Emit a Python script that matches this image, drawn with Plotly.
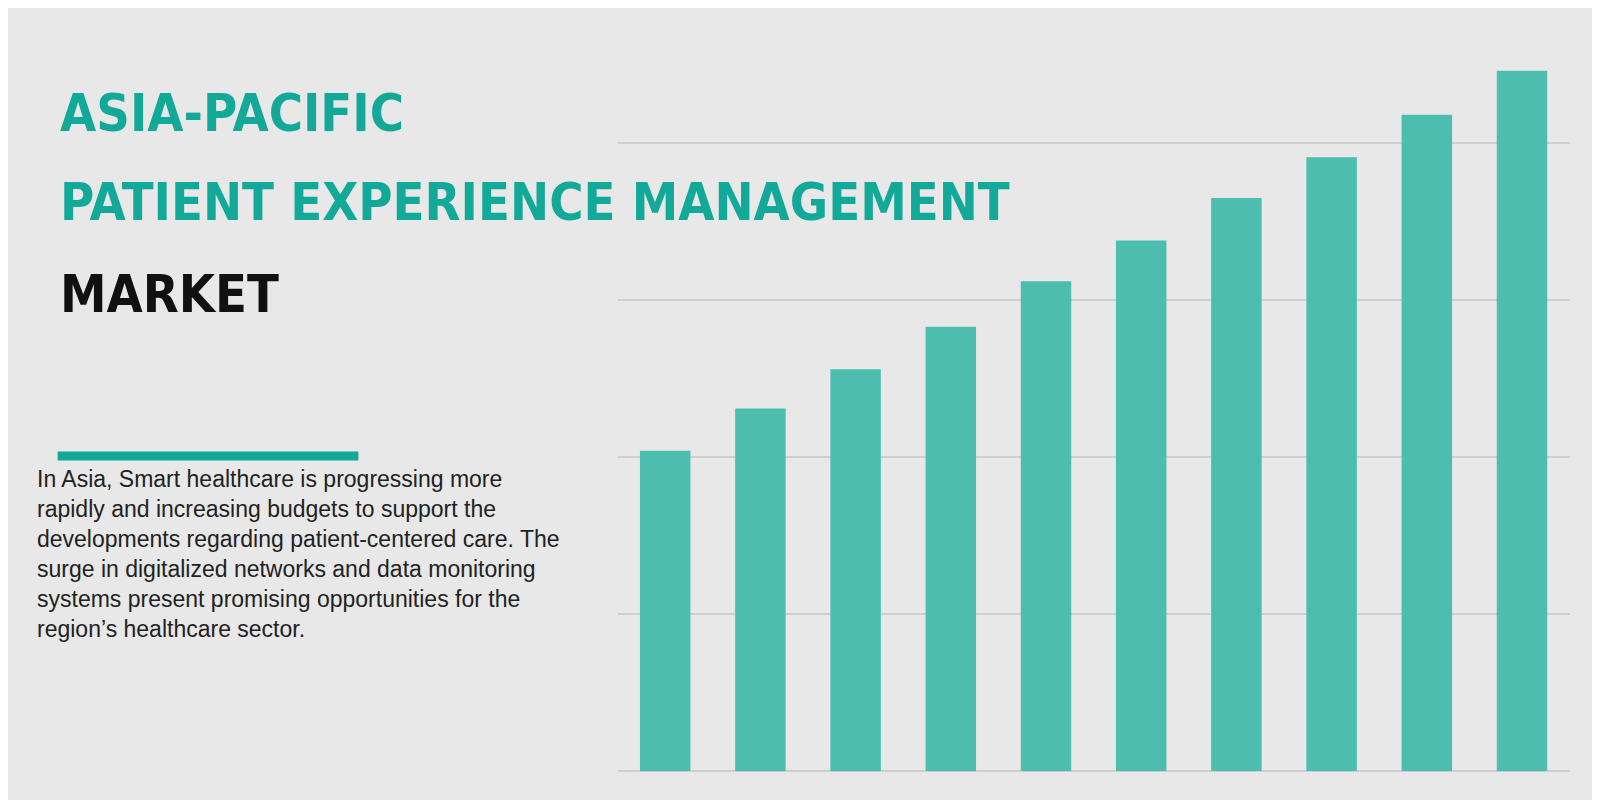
import plotly.graph_objects as go

years = ["Y1", "Y2", "Y3", "Y4", "Y5", "Y6", "Y7", "Y8", "Y9", "Y10"]
values = [2.04, 2.31, 2.56, 2.83, 3.12, 3.38, 3.65, 3.91, 4.18, 4.46]

teal = "#13a999"
body = ("In Asia, Smart healthcare is progressing more<br>"
        "rapidly and increasing budgets to support the<br>"
        "developments regarding patient-centered care. The<br>"
        "surge in digitalized networks and data monitoring<br>"
        "systems present promising opportunities for the<br>"
        "region’s healthcare sector.")

fig = go.Figure()
fig.add_trace(go.Bar(
    x=years, y=values,
    marker=dict(color="#4dbdb0", line=dict(width=0)),
    hoverinfo="skip",
))

title_font = "DejaVu Sans Condensed, Roboto Condensed, Arial Narrow, sans-serif"
titles = [("ASIA-PACIFIC", teal, 0.869), ("PATIENT EXPERIENCE MANAGEMENT", teal, 0.758),
          ("MARKET", "#111111", 0.643)]
annotations = []
for txt, col, yy in titles:
    annotations.append(dict(
        text=f"<b>{txt}</b>", x=0.031, y=yy, xref="paper", yref="paper",
        xanchor="left", yanchor="middle", showarrow=False,
        font=dict(family=title_font, size=52, color=col),
    ))
annotations.append(dict(
    text=body, x=0.017, y=0.43, xref="paper", yref="paper",
    xanchor="left", yanchor="top", align="left", showarrow=False,
    font=dict(family="Liberation Sans, Arial, sans-serif", size=23, color="#222222"),
))

fig.update_layout(
    width=1600, height=800,
    margin=dict(l=0, r=0, t=0, b=0),
    paper_bgcolor="#e8e8e8", plot_bgcolor="#e8e8e8",
    showlegend=False, bargap=0.47,
    xaxis=dict(domain=[0.381, 0.976], range=[-0.5, 9.5], showticklabels=False,
               showgrid=False, zeroline=False),
    yaxis=dict(domain=[0.046, 0.949], range=[0, 4.6], dtick=1, showticklabels=False,
               gridcolor="#cfcfcf", gridwidth=1.5, zeroline=True,
               zerolinecolor="#cfcfcf", zerolinewidth=1.5),
    annotations=annotations,
    shapes=[dict(type="line", xref="paper", yref="paper", x0=0.031, x1=0.219,
                 y0=0.44, y1=0.44, line=dict(color=teal, width=9))],
)

fig.write_html("out.html")
